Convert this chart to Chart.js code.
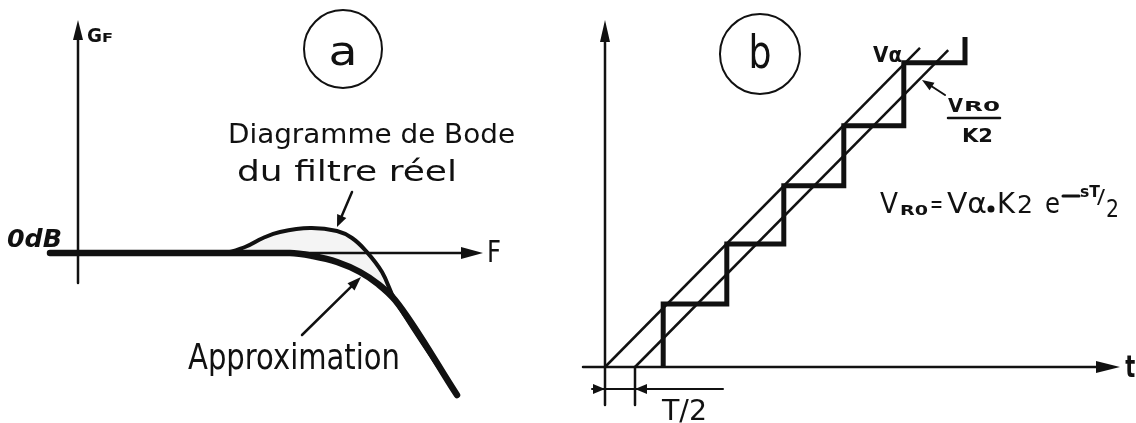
<!DOCTYPE html>
<html lang="fr">
<head>
<meta charset="utf-8">
<title>Filtre : diagramme de Bode et réponse à une rampe</title>
<script src="https://cdn.jsdelivr.net/npm/chart.js@4.4.1/dist/chart.umd.min.js"></script>
<style>
  html, body { margin: 0; padding: 0; background: #fff; }
  #stage { position: relative; width: 1136px; height: 423px; overflow: hidden; }
  #stage canvas { position: absolute; top: 0; }
  #bode { left: 0; }
  #ramp { left: 545px; }
</style>
</head>
<body>
<div id="stage">
  <canvas id="bode" width="540" height="423"></canvas>
  <canvas id="ramp" width="591" height="423"></canvas>
</div>
<script>
// (a) gain of the real filter vs. its approximation (x: frequency, y: dB)
const bodeF   = [0, 3.625, 4.175, 4.625, 5.05, 5.8, 6.475, 6.85, 7.2, 7.6, 7.925, 9.475];
const bodeG   = [0, 0, 0.6, 1.5, 2.1, 2.5, 2.2, 1.5, 0.2, -1.9, -4.7, -14.2];
const approxF = [-0.7, 5.3, 5.875, 6.475, 7.05, 7.5, 7.925, 9.475];
const approxG = [0, 0, -0.3, -0.9, -1.9, -3.1, -4.7, -14.2];

// (b) ramp input, delayed ramp and the sampled staircase (x: t in units of T)
const rampT    = [0, 5.25];
const rampV    = [0, 5.32];
const delayedT = [0.5, 5.72];
const delayedV = [0, 5.28];
const stepT    = [0.97, 2.03, 2.98, 3.98, 4.98, 6.0];
const stepV    = [1.05, 2.05, 3.02, 4.02, 5.07, 5.5];

const INK = '#111';
const FONT = '"DejaVu Sans", sans-serif';

const pts = (xs, ys) => xs.map((x, i) => ({ x: x, y: ys[i] }));

function stairPoints() {
  const out = [{ x: stepT[0], y: 0 }];
  for (let i = 0; i < stepT.length - 1; i++) {
    out.push({ x: stepT[i], y: stepV[i] });
    out.push({ x: stepT[i + 1], y: stepV[i] });
  }
  out.push({ x: stepT[stepT.length - 1], y: stepV[stepV.length - 1] });
  return out;
}

function text(ctx, s, x, y, size, width, weight) {
  ctx.font = (weight || 'normal') + ' ' + size + 'px ' + FONT;
  const w = ctx.measureText(s).width;
  ctx.save();
  ctx.translate(x, y);
  if (width) ctx.scale(width / w, 1);
  ctx.fillText(s, 0, 0);
  ctx.restore();
}

function seg(ctx, x0, y0, x1, y1, lw) {
  ctx.lineWidth = lw;
  ctx.beginPath();
  ctx.moveTo(x0, y0);
  ctx.lineTo(x1, y1);
  ctx.stroke();
}

function head(ctx, x0, y0, x1, y1, len, half) {
  const a = Math.atan2(y1 - y0, x1 - x0);
  const bx = x1 - len * Math.cos(a), by = y1 - len * Math.sin(a);
  ctx.beginPath();
  ctx.moveTo(x1, y1);
  ctx.lineTo(bx + half * Math.sin(a), by - half * Math.cos(a));
  ctx.lineTo(bx - half * Math.sin(a), by + half * Math.cos(a));
  ctx.closePath();
  ctx.fill();
}

function arrow(ctx, x0, y0, x1, y1, lw, len, half) {
  const a = Math.atan2(y1 - y0, x1 - x0);
  seg(ctx, x0, y0, x1 - len * 0.8 * Math.cos(a), y1 - len * 0.8 * Math.sin(a), lw);
  head(ctx, x0, y0, x1, y1, len, half);
}

function ring(ctx, cx, cy, r) {
  ctx.lineWidth = 2;
  ctx.beginPath();
  ctx.arc(cx, cy, r, 0, Math.PI * 2);
  ctx.stroke();
}

function makeChart(id, datasets, xr, yr, notes) {
  return new Chart(document.getElementById(id), {
    type: 'line',
    data: { datasets: datasets },
    options: {
      responsive: false,
      animation: false,
      events: [],
      layout: { padding: 0 },
      plugins: { legend: { display: false }, tooltip: { enabled: false } },
      elements: { point: { radius: 0 } },
      scales: {
        x: { type: 'linear', min: xr[0], max: xr[1], display: false },
        y: { type: 'linear', min: yr[0], max: yr[1], display: false }
      }
    },
    plugins: [{
      id: 'sketchNotes',
      afterDraw(chart) {
        const X = v => chart.scales.x.getPixelForValue(v);
        const Y = v => chart.scales.y.getPixelForValue(v);
        const ctx = chart.ctx;
        ctx.save();
        ctx.fillStyle = INK;
        ctx.strokeStyle = INK;
        ctx.lineCap = 'round';
        ctx.textBaseline = 'alphabetic';
        notes(ctx, X, Y);
        ctx.restore();
      }
    }]
  });
}

// ---- panel a ----
makeChart('bode', [
  {
    data: pts(approxF, approxG),
    borderColor: INK, borderWidth: 6.5,
    borderCapStyle: 'round', borderJoinStyle: 'round',
    cubicInterpolationMode: 'monotone', fill: false
  },
  {
    data: pts(bodeF, bodeG),
    borderColor: INK, borderWidth: 4,
    borderCapStyle: 'round', borderJoinStyle: 'round',
    tension: 0.4,
    fill: '-1', backgroundColor: 'rgba(0,0,0,0.045)'
  }
], [-1.95, 11.55], [-17, 25.3], (ctx, X, Y) => {
  // axes
  arrow(ctx, X(0), Y(-3), X(0), Y(23.3), 2.5, 20, 5);
  arrow(ctx, X(-0.7), Y(0), X(10.125), Y(0), 2.5, 22, 6);
  text(ctx, 'G', X(0.225), Y(21.1), 20, 15, 'bold');
  text(ctx, 'F', X(0.6), Y(21.1), 13, 11, 'bold');
  text(ctx, 'F', X(10.225), Y(-0.9), 30, 14);
  text(ctx, '0dB', X(-1.775), Y(0.6), 24, 55, 'bold italic');

  ring(ctx, X(6.625), Y(20.4), 39);
  text(ctx, 'a', X(6.625) - 14.5, Y(18.8), 40, 29);

  text(ctx, 'Diagramme de Bode', X(3.75), Y(11.0), 26, 287);
  text(ctx, 'du filtre réel', X(3.975), Y(7.2), 29, 220);
  arrow(ctx, X(6.85), Y(6.1), X(6.475), Y(2.6), 2.5, 12, 5);

  text(ctx, 'Approximation', X(2.75), Y(-11.6), 36, 212);
  arrow(ctx, X(5.6), Y(-8.2), X(7.075), Y(-2.4), 2.5, 14, 5);
});

// ---- panel b ----
makeChart('ramp', [
  { data: pts(rampT, rampV), borderColor: INK, borderWidth: 2.5, fill: false },
  { data: pts(delayedT, delayedV), borderColor: INK, borderWidth: 2.5, fill: false },
  {
    data: stairPoints(), borderColor: INK, borderWidth: 5,
    borderJoinStyle: 'miter', borderCapStyle: 'butt', fill: false
  }
], [-1, 8.85], [-0.9333, 6.1167], (ctx, X, Y) => {
  // axes
  arrow(ctx, X(0), Y(-0.633), X(0), Y(5.783), 2.5, 22, 5);
  arrow(ctx, X(-0.367), Y(0), X(8.583), Y(0), 2.5, 24, 6);
  text(ctx, 't', X(8.67), Y(-0.167), 30, 10, 'bold');

  // T/2 delay marker
  seg(ctx, X(0.5), Y(0), X(0.5), Y(-0.633), 2.5);
  seg(ctx, X(-0.217), Y(-0.367), X(1.967), Y(-0.367), 2);
  head(ctx, X(-0.217), Y(-0.367), X(0), Y(-0.367), 12, 5);
  head(ctx, X(0.7), Y(-0.367), X(0.5), Y(-0.367), 12, 5);
  text(ctx, 'T/2', X(0.95), Y(-0.883), 28, 45);

  ring(ctx, X(2.583), Y(5.217), 40);
  text(ctx, 'b', X(2.583) - 11.5, Y(4.983), 46, 23);

  text(ctx, 'Vα', X(4.467), Y(5.083), 22, 29, 'bold');

  // V_R0 / K2 label
  text(ctx, 'V', X(5.717), Y(4.25), 20, 15, 'bold');
  text(ctx, 'R0', X(5.717) + 16, Y(4.25) - 1, 14, 36, 'bold');
  seg(ctx, X(5.717), Y(4.15), X(6.583), Y(4.15), 2.5);
  text(ctx, 'K2', X(5.95), Y(3.75), 20, 31, 'bold');
  arrow(ctx, X(5.667), Y(4.533), X(5.283), Y(4.783), 2, 12, 4.5);

  // V_R0 = Vα . K2 e^(-sT/2)
  const fx = X(4.583), fy = Y(2.567);
  text(ctx, 'V', fx, fy, 28, 18);
  text(ctx, 'R0', fx + 20, fy + 2, 14, 28, 'bold');
  text(ctx, '=', fx + 50, fy - 1, 24, 13);
  text(ctx, 'Vα', fx + 67, fy, 28, 40);
  ctx.beginPath();
  ctx.arc(fx + 111, fy - 4, 3.5, 0, Math.PI * 2);
  ctx.fill();
  text(ctx, 'K', fx + 117, fy, 28, 18);
  text(ctx, '2', fx + 137, fy, 24, 16);
  text(ctx, 'e', fx + 165, fy, 28, 15);
  seg(ctx, fx + 183, fy - 17, fx + 199, fy - 17, 3);
  text(ctx, 'sT', fx + 200, fy - 16, 15, 20, 'bold');
  text(ctx, '/', fx + 217, fy - 10, 20, 8);
  text(ctx, '2', fx + 226, fy + 4, 24, 13);
});
</script>
</body>
</html>
